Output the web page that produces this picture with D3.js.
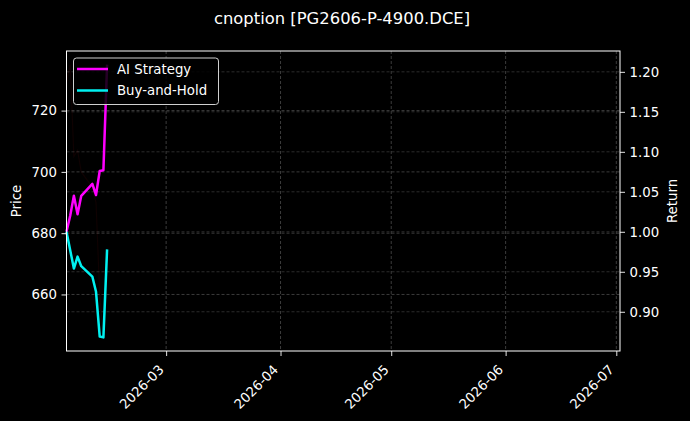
<!DOCTYPE html>
<html>
<head>
<meta charset="utf-8">
<script src="https://cdn.jsdelivr.net/npm/d3@7"></script>
<style>
  body { margin: 0; background: #000; }
  svg { display: block; font-family: "DejaVu Sans", sans-serif; }
</style>
</head>
<body>
<svg id="chart" width="690" height="421"></svg>
<script>
// trading days shown on the chart
const dates = ["2026-02-02", "2026-02-03", "2026-02-04", "2026-02-05", "2026-02-06",
               "2026-02-09", "2026-02-10", "2026-02-11", "2026-02-12", "2026-02-13"];
// option price (left axis, barely visible in the picture)
const price = [729, 735, 705, 707, 700, 695, 690, 660, 646, 665];
// cumulative returns (right axis)
const aiStrategy = [1.000, 1.020, 1.045, 1.022, 1.045, 1.060, 1.046, 1.076, 1.077, 1.209];
const buyHold = [1.000, 0.977, 0.954, 0.969, 0.957, 0.944, 0.925, 0.869, 0.868, 0.978];
// axis ticks
const priceTicks = [660, 680, 700, 720];
const returnTicks = [0.90, 0.95, 1.00, 1.05, 1.10, 1.15, 1.20];
const monthTicks = ["2026-03-01", "2026-04-01", "2026-05-01", "2026-06-01", "2026-07-01"];
const xStart = "2026-02-02", xEnd = "2026-07-02";

const parse = d3.timeParse("%Y-%m-%d");
const svg = d3.select("#chart");
const mLeft = 66.5, mRight = 620, mTop = 51, mBottom = 351;
const fs = 13.3;

// matplotlib style 5% padding
function padded(arr) {
	let ext = d3.extent(arr);
	let p = (ext[1] - ext[0]) * 0.05;
	return [ext[0] - p, ext[1] + p];
}

let x = d3.scaleTime().domain([parse(xStart), parse(xEnd)]).range([mLeft, mRight]);
let yPrice = d3.scaleLinear().domain(padded(price)).range([mBottom, mTop]);
let yRet = d3.scaleLinear().domain(padded(aiStrategy.concat(buyHold))).range([mBottom, mTop]);

// grid lines
let grid = svg.append("g").attr("stroke", "#555").attr("stroke-width", 0.7)
	.attr("stroke-dasharray", "3,2");
monthTicks.forEach(function(t) {
	grid.append("line").attr("x1", x(parse(t))).attr("x2", x(parse(t)))
		.attr("y1", mTop).attr("y2", mBottom);
});
priceTicks.forEach(function(t) {
	grid.append("line").attr("x1", mLeft).attr("x2", mRight)
		.attr("y1", yPrice(t)).attr("y2", yPrice(t));
});
returnTicks.forEach(function(t) {
	grid.append("line").attr("x1", mLeft).attr("x2", mRight)
		.attr("y1", yRet(t)).attr("y2", yRet(t)).attr("stroke-opacity", 0.75);
});

// faint price trace
let priceLine = d3.line()
	.x(function(d, i) { return x(parse(dates[i])); })
	.y(function(d) { return yPrice(d); });
svg.append("path").datum(price).attr("d", priceLine)
	.attr("fill", "none").attr("stroke", "#ff2020").attr("stroke-opacity", 0.06)
	.attr("stroke-width", 1.2);

// return lines
let retLine = d3.line()
	.x(function(d, i) { return x(parse(dates[i])); })
	.y(function(d) { return yRet(d); });
svg.append("path").datum(aiStrategy).attr("d", retLine)
	.attr("fill", "none").attr("stroke", "#ff00ff").attr("stroke-width", 2.5)
	.attr("stroke-linejoin", "round");
svg.append("path").datum(buyHold).attr("d", retLine)
	.attr("fill", "none").attr("stroke", "#00f0f0").attr("stroke-width", 2.5)
	.attr("stroke-linejoin", "round");

// axes
let axLeft = svg.append("g").attr("transform", "translate(" + mLeft + ",0)")
	.call(d3.axisLeft(yPrice).tickValues(priceTicks).tickSize(5).tickPadding(4.5).tickFormat(d3.format("d")));
let axRight = svg.append("g").attr("transform", "translate(" + mRight + ",0)")
	.call(d3.axisRight(yRet).tickValues(returnTicks).tickSize(5).tickPadding(4.5).tickFormat(d3.format(".2f")));
let axBottom = svg.append("g").attr("transform", "translate(0," + mBottom + ")")
	.call(d3.axisBottom(x).tickValues(monthTicks.map(parse)).tickSize(5).tickFormat(d3.timeFormat("%Y-%m")));

[axLeft, axRight, axBottom].forEach(function(ax) {
	ax.select(".domain").remove();
	ax.selectAll("line").attr("stroke", "#fff").attr("stroke-width", 0.9);
	ax.selectAll("text").attr("fill", "#fff").style("font-size", fs + "px")
		.style("font-family", "DejaVu Sans");
});

axBottom.selectAll("text")
	.attr("text-anchor", "end")
	.attr("dy", null)
	.attr("y", null)
	.attr("transform", "translate(-2,19.5) rotate(-45)");

// spines
svg.append("rect").attr("x", mLeft).attr("y", mTop)
	.attr("width", mRight - mLeft).attr("height", mBottom - mTop)
	.attr("fill", "none").attr("stroke", "#fff").attr("stroke-width", 1);

// axis labels
svg.append("text").attr("transform", "translate(21," + ((mTop + mBottom) / 2) + ") rotate(-90)")
	.attr("text-anchor", "middle").attr("fill", "#fff").style("font-size", fs + "px").text("Price");
svg.append("text").attr("transform", "translate(677," + ((mTop + mBottom) / 2) + ") rotate(-90)")
	.attr("text-anchor", "middle").attr("fill", "#fff").style("font-size", fs + "px").text("Return");

// title
svg.append("text").attr("x", 342).attr("y", 24).attr("text-anchor", "middle")
	.attr("fill", "#fff").style("font-size", "16.4px").text("cnoption [PG2606-P-4900.DCE]");

// legend
let legend = svg.append("g");
legend.append("rect").attr("x", 73.5).attr("y", 58).attr("width", 145).attr("height", 46.5)
	.attr("rx", 3).attr("fill", "#000").attr("fill-opacity", 0.85)
	.attr("stroke", "#d0d0d0").attr("stroke-width", 1);
let items = [["AI Strategy", "#ff00ff"], ["Buy-and-Hold", "#00f0f0"]];
items.forEach(function(it, i) {
	let yy = 69 + i * 21.5;
	legend.append("line").attr("x1", 77).attr("x2", 108).attr("y1", yy).attr("y2", yy)
		.attr("stroke", it[1]).attr("stroke-width", 2.5);
	legend.append("text").attr("x", 117).attr("y", yy + 4.8).attr("fill", "#fff")
		.style("font-size", fs + "px").text(it[0]);
});
</script>
</body>
</html>
